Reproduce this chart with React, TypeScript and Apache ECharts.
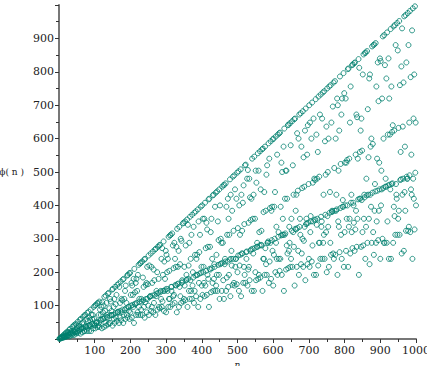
import React, { useEffect, useRef } from "react";
import * as echarts from "echarts";

// Euler's totient phi(n) for n = 1..1000 (the exact values plotted)
const N_MAX = 1000;
const nValues: number[] = Array.from({ length: N_MAX }, (_, i) => i + 1);
const phiValues: number[] = nValues.map((n) => {
  let result = n;
  let m = n;
  for (let p = 2; p * p <= m; p++) {
    if (m % p === 0) {
      while (m % p === 0) m /= p;
      result -= result / p;
    }
  }
  if (m > 1) result -= result / m;
  return result;
});

const xTicks = [100, 200, 300, 400, 500, 600, 700, 800, 900, 1000];
const yTicks = [100, 200, 300, 400, 500, 600, 700, 800, 900];

export default function App() {
  const ref = useRef<HTMLDivElement>(null);
  useEffect(() => {
    if (!ref.current) return;
    const chart = echarts.init(ref.current, undefined, { renderer: "svg" });
    const font = "'DejaVu Serif', serif";
    const axisCommon = {
      type: "value" as const,
      interval: 100,
      axisLine: { show: true, lineStyle: { color: "#777", width: 2 } },
      axisTick: { show: true, length: 4, lineStyle: { color: "#333", width: 1 } },
      minorTick: { show: true, splitNumber: 2, length: 3, lineStyle: { color: "#333", width: 1 } },
      splitLine: { show: false },
      minorSplitLine: { show: false },
      axisLabel: {
        color: "#222",
        fontFamily: font,
        fontSize: 11,
        showMinLabel: false,
      },
    };
    chart.setOption({
      animation: false,
      backgroundColor: "#fff",
      grid: { left: 59, right: 11, top: 5, bottom: 27, containLabel: false, outerBoundsMode: "none" },
      xAxis: {
        ...axisCommon,
        min: 0,
        max: 1000,
        name: "n",
        nameLocation: "middle",
        nameGap: 20,
        nameTextStyle: { fontFamily: font, fontStyle: "italic", fontSize: 9, color: "#222" },
        axisLabel: {
          ...axisCommon.axisLabel,
          margin: 6,
          formatter: (v: number) => (xTicks.includes(v) ? String(v) : ""),
        },
      },
      yAxis: {
        ...axisCommon,
        min: 0,
        max: 1000,
        name: "ϕ( n )",
        nameLocation: "middle",
        nameGap: 35,
        nameRotate: 0,
        nameTextStyle: { fontFamily: font, fontSize: 9, color: "#222" },
        axisLabel: {
          ...axisCommon.axisLabel,
          margin: 5,
          showMaxLabel: false,
          formatter: (v: number) => (yTicks.includes(v) ? String(v) : ""),
        },
      },
      series: [
        {
          type: "scatter",
          data: nValues.map((n, i) => [n, phiValues[i]]),
          symbol: "circle",
          symbolSize: 5,
          itemStyle: { color: "transparent", borderColor: "#00806e", borderWidth: 1 },
          clip: false,
        },
      ],
    });
    return () => chart.dispose();
  }, []);
  return <div ref={ref} style={{ width: 427, height: 366, position: "absolute", left: 0, top: 0 }} />;
}
